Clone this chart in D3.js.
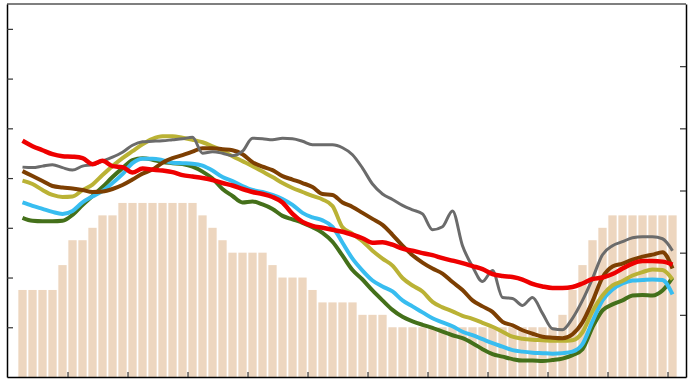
<!DOCTYPE html>
<html>
<head>
<meta charset="utf-8">
<script src="https://cdn.jsdelivr.net/npm/d3@7"></script>
<style>
	body { margin: 0; background: #fff; }
	svg { display: block; }
</style>
</head>
<body>
<div id="chart"></div>
<script>

// bars (right axis)
var barValues = [1.4,1.4,1.4,1.4,1.8,2.2,2.2,2.4,2.6,2.6,
	2.8,2.8,2.8,2.8,2.8,2.8,2.8,2.8,2.6,2.4,
	2.2,2.0,2.0,2.0,2.0,1.8,1.6,1.6,1.6,1.4,
	1.2,1.2,1.2,1.2,1.0,1.0,1.0,0.8,0.8,0.8,
	0.8,0.8,0.8,0.8,0.8,0.8,0.8,0.8,0.8,0.8,
	0.8,0.8,0.8,0.8,1.0,1.4,1.8,2.2,2.4,2.6,
	2.6,2.6,2.6,2.6,2.6,2.6];

// lines (left axis)
var green = [32.0,31.4,31.3,31.3,31.4,32.6,34.6,36.4,38.2,40.2,
	42.0,43.6,44.0,43.7,43.2,43.0,42.8,42.3,41.3,39.9,
	37.8,36.4,35.1,35.3,34.7,33.8,32.4,31.7,31.0,30.1,
	29.0,27.2,24.4,21.5,19.6,17.4,15.4,13.5,12.1,11.2,
	10.5,9.9,9.1,8.4,7.8,6.8,5.6,4.6,4.1,3.6,
	3.3,3.3,3.2,3.4,3.7,4.4,5.6,10.0,13.4,14.6,
	15.4,16.4,16.5,16.4,17.4,20.0];

var blue = [35.1,34.4,33.8,33.2,32.8,33.4,35.1,36.3,37.4,39.0,
	40.8,43.0,43.9,43.9,43.6,43.1,43.0,42.9,42.5,41.5,
	40.2,39.4,38.4,37.6,37.2,36.6,35.8,34.6,33.0,32.1,
	31.5,30.2,27.0,23.8,21.4,19.4,18.2,17.2,15.4,14.2,
	13.0,11.8,11.0,10.2,9.1,8.4,7.6,6.8,6.1,5.4,
	5.1,4.9,4.8,4.7,4.8,5.1,6.6,11.2,15.4,17.6,
	18.8,19.4,19.5,19.6,19.5,16.6];

var olive = [39.5,38.8,37.6,36.6,36.2,36.3,37.6,38.7,40.6,42.4,
	44.0,45.4,46.8,47.9,48.4,48.4,48.1,47.7,47.2,46.4,
	45.5,44.4,43.4,42.4,41.3,40.2,39.0,38.0,37.2,36.4,
	35.7,34.4,30.1,28.8,27.3,25.4,23.8,22.4,19.9,18.4,
	17.2,15.1,14.0,13.2,12.3,11.7,10.9,10.1,9.1,8.1,
	7.7,7.5,7.4,7.3,7.3,7.4,9.0,13.2,16.4,18.4,
	19.3,20.4,21.1,21.6,21.5,19.6];

var brown = [41.4,40.4,39.4,38.4,38.1,37.9,37.6,37.2,37.3,37.8,
	38.6,39.7,40.9,41.7,43.1,44.0,44.6,45.3,46.0,46.0,
	45.8,45.6,44.8,43.2,42.3,41.6,40.4,39.7,39.0,38.2,
	36.8,36.6,35.1,34.2,33.0,31.8,30.6,28.6,26.4,24.5,
	23.0,21.8,20.8,19.1,17.5,15.4,14.2,13.1,11.1,10.4,
	9.4,8.7,8.1,7.9,7.8,8.6,11.0,15.2,20.0,22.2,
	22.8,23.6,24.2,24.6,25.1,21.8];

var gray = [42.2,42.1,42.4,42.7,42.1,41.6,42.4,42.7,43.4,44.2,
	45.2,46.6,47.3,47.4,47.5,47.7,47.9,48.2,45.0,45.3,
	45.0,44.5,45.4,48.0,47.9,47.7,48.0,47.9,47.4,46.7,
	46.7,46.7,46.1,44.7,42.0,38.8,36.8,35.7,34.5,33.6,
	32.8,29.6,30.2,33.4,26.4,22.2,19.2,21.4,16.0,15.8,
	14.4,16.0,12.8,9.7,9.5,11.8,15.4,19.8,24.6,26.4,
	27.2,28.0,28.2,28.2,27.8,25.4];

var red = [47.5,46.4,45.6,44.8,44.4,44.3,44.0,42.8,43.5,42.4,
	42.2,41.1,41.9,41.7,41.5,41.2,40.6,40.3,40.0,39.6,
	39.0,38.5,37.8,37.2,36.8,36.2,35.1,32.8,31.2,30.4,
	30.0,29.6,29.2,28.6,27.9,27.0,27.1,26.6,25.8,25.4,
	24.9,24.5,23.9,23.4,22.9,22.3,21.7,20.7,20.3,20.1,
	19.6,18.7,18.2,17.9,17.9,18.1,18.8,19.7,20.0,20.7,
	21.8,22.8,23.3,23.3,23.2,22.6];

var xTicks = [4.5,10.5,16.5,22.5,28.5,34.5,40.5,46.5,52.5,58.5,64.5];
var leftTicks = [10,20,30,40,50,60,70];
var rightTicks = [1,2,3,4,5];

var series = [
	{name: "green", values: green, color: "#44701a", width: 4},
	{name: "blue", values: blue, color: "#38bdf0", width: 4},
	{name: "olive", values: olive, color: "#bab235", width: 4},
	{name: "brown", values: brown, color: "#7d3f02", width: 4},
	{name: "gray", values: gray, color: "#6b6b6b", width: 3},
	{name: "red", values: red, color: "#ee0000", width: 4.5}
];

var width = 694, height = 384;
var margin = {top: 4, right: 8, bottom: 7, left: 7};

var svg = d3.select("#chart").append("svg")
	.attr("width", width)
	.attr("height", height);

var x = d3.scaleLinear()
	.domain([-1.55, 66.35])
	.range([margin.left, width - margin.right]);

var yLeft = d3.scaleLinear()
	.domain([0, 75])
	.range([height - margin.bottom, margin.top]);

var yRight = d3.scaleLinear()
	.domain([0, 6])
	.range([height - margin.bottom, margin.top]);

var bw = (x(1) - x(0)) * 0.83;

svg.append("g")
	.selectAll("rect")
	.data(barValues)
	.enter().append("rect")
	.attr("x", function(d, i) { return x(i) - bw / 2; })
	.attr("y", function(d) { return yRight(d); })
	.attr("width", bw)
	.attr("height", function(d) { return yRight(0) - yRight(d); })
	.attr("fill", "#edd6bf");

var line = d3.line()
	.x(function(d, i) { return x(i); })
	.y(function(d) { return yLeft(d); })
	.curve(d3.curveMonotoneX);

svg.append("g")
	.selectAll("path")
	.data(series)
	.enter().append("path")
	.attr("d", function(d) { return line(d.values); })
	.attr("fill", "none")
	.attr("stroke", function(d) { return d.color; })
	.attr("stroke-width", function(d) { return d.width; })
	.attr("stroke-linejoin", "round");

// frame
svg.append("line")
	.attr("x1", margin.left).attr("x2", width - margin.right)
	.attr("y1", margin.top).attr("y2", margin.top)
	.attr("stroke", "#555").attr("stroke-width", 1.5);

var xAxisG = svg.append("g")
	.attr("transform", "translate(0," + (height - margin.bottom) + ")")
	.call(d3.axisBottom(x).tickValues(xTicks).tickSize(-5).tickFormat("").tickSizeOuter(0));

var yLeftG = svg.append("g")
	.attr("transform", "translate(" + margin.left + ",0)")
	.call(d3.axisLeft(yLeft).tickValues(leftTicks).tickSize(-6).tickFormat("").tickSizeOuter(0));

var yRightG = svg.append("g")
	.attr("transform", "translate(" + (width - margin.right) + ",0)")
	.call(d3.axisRight(yRight).tickValues(rightTicks).tickSize(-6).tickFormat("").tickSizeOuter(0));

[xAxisG, yLeftG, yRightG].forEach(function(g) {
	g.select(".domain").attr("stroke", "#000").attr("stroke-width", 1.5);
	g.selectAll(".tick line").attr("stroke", "#333").attr("stroke-width", 1.2);
});

</script>
</body>
</html>
